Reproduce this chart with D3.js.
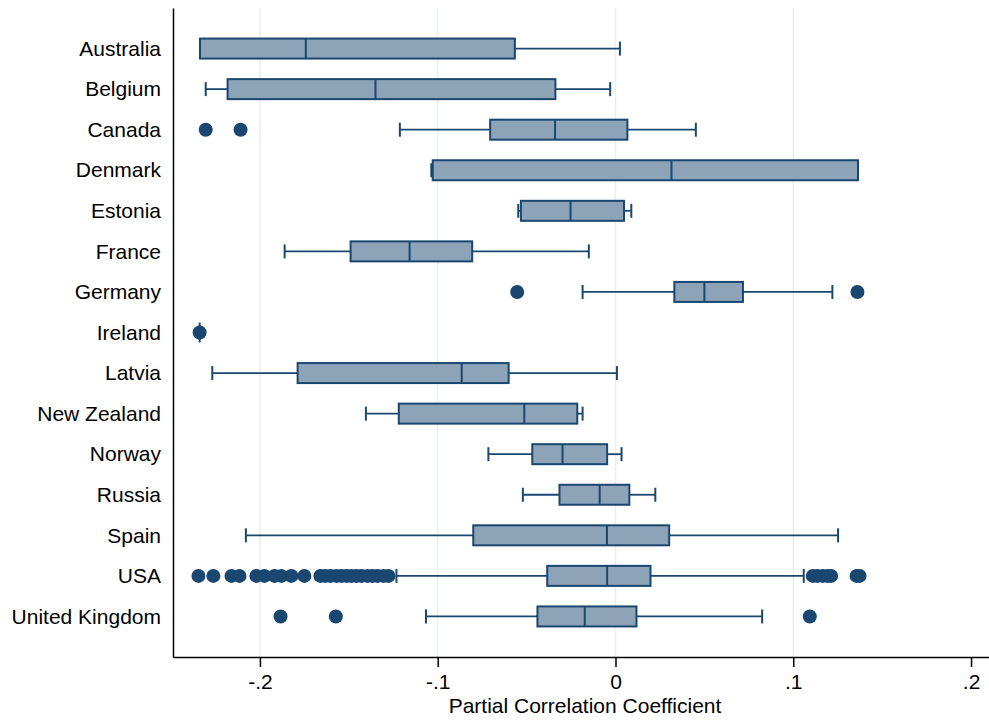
<!DOCTYPE html>
<html>
<head>
<meta charset="utf-8">
<script src="https://cdn.jsdelivr.net/npm/d3@7"></script>
<style>
  body { margin: 0; background: #fff; }
  text { font-family: "Liberation Sans", Arial, sans-serif; }
</style>
</head>
<body>
<svg></svg>
<script>
const width = 989
const height = 720

// data
const countries = ["Australia", "Belgium", "Canada", "Denmark", "Estonia", "France", "Germany",
  "Ireland", "Latvia", "New Zealand", "Norway", "Russia", "Spain", "USA", "United Kingdom"]
const lowWhisker = [-0.2337, -0.2305, -0.1213, -0.1036, -0.0547, -0.1861, -0.0185,
  -0.2339, -0.2268, -0.1404, -0.0715, -0.0521, -0.2079, -0.1232, -0.1066]
const q1 = [-0.2337, -0.2182, -0.0705, -0.1028, -0.0532, -0.1490, 0.0331,
  -0.2339, -0.1788, -0.1219, -0.0468, -0.0315, -0.0800, -0.0384, -0.0439]
const median = [-0.1742, -0.1350, -0.0340, 0.0315, -0.0253, -0.1158, 0.0500,
  -0.2339, -0.0865, -0.0513, -0.0298, -0.0089, -0.0048, -0.0047, -0.0173]
const q3 = [-0.0566, -0.0338, 0.0067, 0.1364, 0.0048, -0.0806, 0.0717,
  -0.2339, -0.0601, -0.0215, -0.0047, 0.0078, 0.0302, 0.0197, 0.0118]
const highWhisker = [0.0025, -0.0030, 0.0452, 0.1364, 0.0089, -0.0150, 0.1220,
  -0.2339, 0.0008, -0.0185, 0.0034, 0.0224, 0.1252, 0.1059, 0.0825]
const outliers = [
  [], [], [-0.2305, -0.2109], [], [], [], [-0.0553, 0.1361],
  [-0.2339], [], [], [], [], [],
  [-0.2346, -0.2262, -0.2160, -0.2115, -0.2020, -0.1975, -0.1918, -0.1879, -0.1823, -0.1750,
   -0.1660, -0.1632, -0.1603, -0.1570, -0.1541, -0.1513, -0.1485, -0.1457, -0.1429, -0.1395,
   -0.1367, -0.1339, -0.1305, -0.1277,
   0.1110, 0.1136, 0.1166, 0.1193, 0.1213, 0.1356, 0.1373],
  [-0.1884, -0.1573, 0.1093]
]
const tickValues = [-0.2, -0.1, 0, 0.1, 0.2]
const tickLabels = ["-.2", "-.1", "0", ".1", ".2"]
const gridValues = [-0.2, -0.1, 0, 0.1]

const boxes = countries.map((c, i) => ({
  name: c, lo: lowWhisker[i], q1: q1[i], med: median[i], q3: q3[i], hi: highWhisker[i], out: outliers[i]
}))

const plotLeft = 173, plotRight = 989, plotTop = 8, plotBottom = 657
const navy = "#1a476f"
const fillCol = "#8da3b8"

const svg = d3.select('svg')
  .attr('width', width)
  .attr('height', height)

const x = d3.scaleLinear()
  .domain([-0.2489, 0.2101])
  .range([plotLeft, plotRight])

const y = d3.scalePoint()
  .domain(countries)
  .range([plotTop, plotBottom])
  .padding(1)

// grid
svg.append("g")
  .selectAll("line")
  .data(gridValues)
  .enter()
  .append("line")
  .attr("x1", d => x(d))
  .attr("x2", d => x(d))
  .attr("y1", plotTop)
  .attr("y2", plotBottom)
  .style("stroke", "#e9eff4")
  .attr("stroke-width", 1.6)

// boxes
const g = svg.append("g")
  .selectAll("g")
  .data(boxes)
  .enter()
  .append("g")
  .attr("transform", d => "translate(0," + y(d.name) + ")")

g.append("line")
  .attr("x1", d => x(d.lo)).attr("x2", d => x(d.q1))
  .attr("stroke", navy).attr("stroke-width", 1.8)
g.append("line")
  .attr("x1", d => x(d.q3)).attr("x2", d => x(d.hi))
  .attr("stroke", navy).attr("stroke-width", 1.8)

g.append("line")
  .attr("x1", d => x(d.lo)).attr("x2", d => x(d.lo))
  .attr("y1", -7).attr("y2", 7)
  .attr("stroke", navy).attr("stroke-width", 2)
g.append("line")
  .attr("x1", d => x(d.hi)).attr("x2", d => x(d.hi))
  .attr("y1", -7).attr("y2", 7)
  .attr("stroke", navy).attr("stroke-width", 2)

g.append("rect")
  .attr("x", d => x(d.q1))
  .attr("width", d => x(d.q3) - x(d.q1))
  .attr("y", -10)
  .attr("height", 20)
  .attr("fill", fillCol)
  .attr("stroke", navy)
  .attr("stroke-width", 2)

g.append("line")
  .attr("x1", d => x(d.med)).attr("x2", d => x(d.med))
  .attr("y1", -10).attr("y2", 10)
  .attr("stroke", navy).attr("stroke-width", 2)

g.selectAll("circle")
  .data(d => d.out)
  .enter()
  .append("circle")
  .attr("cx", d => x(d))
  .attr("cy", 0)
  .attr("r", 7)
  .attr("fill", navy)

// axes
const yAxis = svg.append("g")
  .attr("transform", "translate(" + plotLeft + ",0)")
  .call(d3.axisLeft(y).tickSize(0).tickPadding(12))
yAxis.select(".domain").attr("stroke", "#000").attr("stroke-width", 1.5)
yAxis.selectAll("text").attr("font-size", 21).attr("fill", "#000")
  .attr("font-family", "Liberation Sans, Arial, sans-serif")

const xAxis = svg.append("g")
  .attr("transform", "translate(0," + plotBottom + ")")
  .call(d3.axisBottom(x)
    .tickValues(tickValues)
    .tickFormat((d, i) => tickLabels[i])
    .tickSize(10)
    .tickSizeOuter(0)
    .tickPadding(7))
xAxis.select(".domain").attr("stroke", "#000").attr("stroke-width", 1.5)
xAxis.selectAll(".tick line").attr("stroke", "#000").attr("stroke-width", 1.5)
xAxis.selectAll("text").attr("font-size", 21).attr("fill", "#000")
  .attr("font-family", "Liberation Sans, Arial, sans-serif")

svg.append("text")
  .attr("x", (plotLeft + plotRight) / 2 + 4)
  .attr("y", 713)
  .attr("text-anchor", "middle")
  .attr("font-size", 21)
  .attr("fill", "#000")
  .text("Partial Correlation Coefficient")
</script>
</body>
</html>
